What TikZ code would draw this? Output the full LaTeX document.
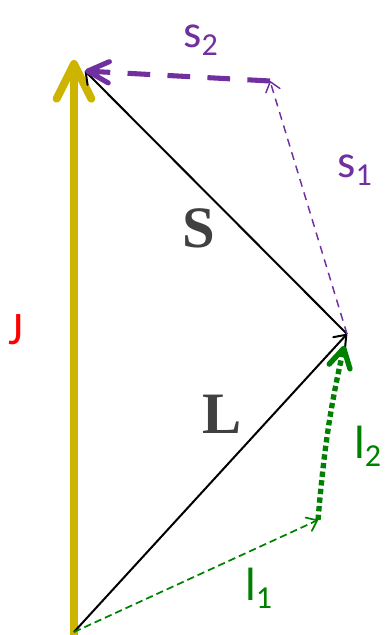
\documentclass[tikz,border=0pt]{standalone}
\usepackage{fontspec}
\setmainfont{Carlito}
\newfontfamily\vecfont{Liberation Serif}
\usetikzlibrary{arrows.meta}
\definecolor{jyellow}{RGB}{204,180,0}
\definecolor{spurple}{RGB}{112,48,160}
\definecolor{lgreen}{RGB}{0,128,0}
\definecolor{vecgray}{RGB}{64,64,64}
\newcommand{\lowidx}[1]{\raisebox{-6pt}{\fontsize{24}{24}\selectfont #1}}

\begin{document}
\begin{tikzpicture}[
  x=0.75pt, y=-0.75pt,
  lbl/.style={font=\fontsize{35}{40}\selectfont, inner sep=0pt, anchor=base west},
  big/.style={font=\vecfont\bfseries\fontsize{44}{50}\selectfont, text=vecgray, inner sep=0pt},
  jarrow/.style={jyellow, line width=6pt, -{Straight Barb[length=26pt, width=26pt, round]}},
  vec/.style={line width=1.5pt, -{Straight Barb[length=8pt, width=12pt, round]}},
  sthin/.style={spurple, line width=1.1pt, dash pattern=on 6pt off 4.5pt, -{Straight Barb[length=7pt, width=11pt, round]}},
  sthick/.style={spurple, line width=3.8pt, dash pattern=on 17pt off 13pt, -{Straight Barb[length=16pt, width=16pt, round]}},
  lthin/.style={lgreen, line width=1.3pt, dash pattern=on 5.5pt off 3pt, -{Straight Barb[length=7pt, width=11pt, round]}},
  lthick/.style={lgreen, line width=4pt, dash pattern=on 4pt off 2.5pt, -{Straight Barb[length=14pt, width=16pt, round]}},
]
  \useasboundingbox (0,0) rectangle (385,635);

  % Points
  \coordinate (O) at (74,636);
  \coordinate (jtop) at (74,60);
  \coordinate (P) at (347,334);
  \coordinate (stip) at (85,71);
  \coordinate (Q) at (270,81);
  \coordinate (R) at (318,520);

  % J
  \draw[jarrow] (O) -- (jtop);

  % L and S
  \draw[vec] (74,632) -- (P);
  \draw[vec] (P) -- (stip);

  % s1, s2
  \draw[sthin] (P) -- (Q);
  \draw[sthick] (Q) -- (stip);

  % l1, l2
  \draw[lthin] (74,632) -- (R);
  \draw[lthick, shorten >=9pt] (R) to[bend left=4] (P);

  % Labels
  \node[lbl, text=red] (jlbl) at (8,344) {J};
  \node[big] (slbl) at (199,228) {S};
  \node[big] (llbl) at (222,414) {L};
  \node[lbl, text=spurple] (s2lbl) at (183,48) {s\lowidx{2}};
  \node[lbl, text=spurple] (s1lbl) at (337,177) {s\lowidx{1}};
  \node[lbl, text=lgreen] (l2lbl) at (354,458) {l\lowidx{2}};
  \node[lbl, text=lgreen] (l1lbl) at (245,600) {l\lowidx{1}};
\end{tikzpicture}
\end{document}
